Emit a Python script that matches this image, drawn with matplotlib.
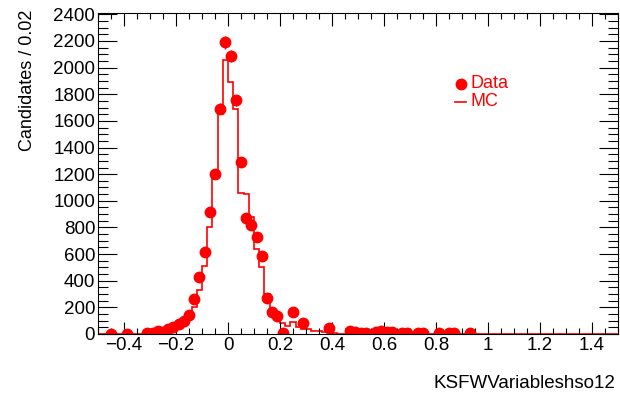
import numpy as np
import matplotlib
matplotlib.use("Agg")
import matplotlib.pyplot as plt
from matplotlib.ticker import MultipleLocator, FixedLocator

# data points (bin centres, counts), empty bins not drawn
data_x = [-0.45, -0.39, -0.31, -0.29, -0.27, -0.25, -0.23, -0.21, -0.19, -0.17,
          -0.15, -0.13, -0.11, -0.09, -0.07, -0.05, -0.03, -0.01, 0.01, 0.03,
          0.05, 0.07, 0.09, 0.11, 0.13, 0.15, 0.17, 0.19, 0.21, 0.25,
          0.29, 0.39, 0.47, 0.49, 0.51, 0.53, 0.57, 0.59, 0.61, 0.63,
          0.67, 0.69, 0.73, 0.75, 0.81, 0.85, 0.87, 0.93]
data_y = [3, 3, 4, 6, 25, 12, 40, 50, 78, 95,
          142, 265, 428, 612, 917, 1202, 1690, 2190, 2090, 1755,
          1288, 868, 822, 730, 585, 268, 163, 135, 10, 163,
          82, 47, 22, 17, 10, 10, 15, 20, 15, 15,
          8, 8, 8, 8, 6, 6, 6, 4]

# MC histogram, 0.02 bins from -0.5 to 1.5
mc_edges = np.round(np.arange(-0.5, 1.5001, 0.02), 4)
mc_core = [2, 2, 2, 2, 2, 2, 2, 2, 3, 5,
           8, 12, 18, 28, 40, 60, 80, 130, 200, 330,
           510, 800, 1200, 1655, 2055, 1892, 1693, 1055, 1050, 880,
           640, 500, 300, 180, 120, 80, 60, 90, 50, 40,
           35, 25, 20, 15, 25, 10, 3, 2, 2, 2]
mc_y = mc_core + [0] * (len(mc_edges) - 1 - len(mc_core))

x_label = "KSFWVariableshso12"
y_label = "Candidates / 0.02"

plt.rcParams["font.family"] = ["Liberation Sans", "DejaVu Sans"]

fig = plt.figure(figsize=(6.2, 3.94), dpi=100)
ax = fig.add_axes([98 / 620, 60 / 394, 520 / 620, 321 / 394])

ax.stairs(mc_y, mc_edges, color="red", linewidth=1.2, label="MC")
ax.errorbar(data_x, data_y, yerr=np.sqrt(data_y), fmt="o", color="red",
            markersize=7.5, elinewidth=1.0, capsize=0, label="Data")

ax.set_xlim(-0.5, 1.5)
ax.set_ylim(0, 2410)
ax.xaxis.set_major_locator(FixedLocator(np.round(np.arange(-0.4, 1.41, 0.2), 2)))
ax.xaxis.set_minor_locator(MultipleLocator(0.05))
ax.yaxis.set_major_locator(MultipleLocator(200))
ax.yaxis.set_minor_locator(MultipleLocator(50))
ax.xaxis.set_major_formatter(plt.FuncFormatter(lambda v, p: f"{v:g}".replace("-", "\u2212")))

ax.tick_params(which="both", direction="in", top=True, right=True, labelsize=13.5, width=0.8)
ax.tick_params(axis="x", which="major", length=9, pad=2)
ax.tick_params(axis="x", which="minor", length=4.5)
ax.tick_params(axis="y", which="major", length=14, pad=2)
ax.tick_params(axis="y", which="minor", length=7)
for s in ax.spines.values():
    s.set_linewidth(0.8)

ax.set_ylabel(y_label, fontsize=13, loc="top")
ax.yaxis.set_label_coords((36 - 98) / 520, 1.01)
fig.text(615 / 620, 1 - 383 / 394, x_label, ha="right", va="center", fontsize=13.5)

# legend drawn ROOT style
ax.plot([(461 - 98) / 520 * 2 - 0.5], [(334 - 84) / 320 * 2400], "o", color="red", markersize=7.5)
fig.text(470 / 620, 1 - 83 / 394, "Data", color="red", fontsize=13, va="center")
fig.text(470 / 620, 1 - 102 / 394, "MC", color="red", fontsize=13, va="center")
fig.lines.append(plt.Line2D([455 / 620, 466 / 620], [1 - 102 / 394, 1 - 102 / 394],
                            color="red", linewidth=1.2, transform=fig.transFigure))

fig.savefig("out.png", dpi=100)
